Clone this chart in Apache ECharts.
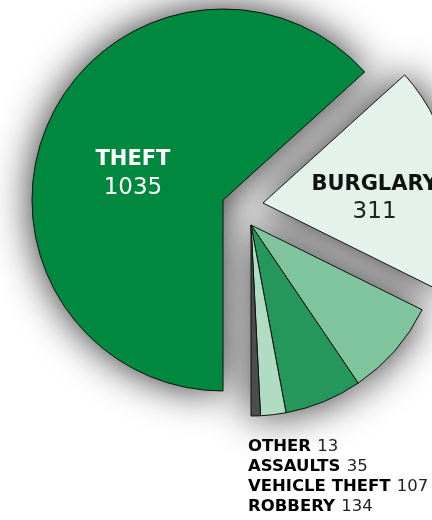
<!DOCTYPE html>
<html>
<head>
<meta charset="utf-8">
<script src="https://cdn.jsdelivr.net/npm/echarts@6/dist/echarts.min.js"></script>
<style>
  html, body { margin: 0; padding: 0; background: #fff; }
  #chart { width: 432px; height: 520px; }
</style>
</head>
<body>
<div id="chart"></div>
<script>
// slices in clockwise order starting at 6 o'clock
var categories = ['THEFT', 'BURGLARY', 'ROBBERY', 'VEHICLE THEFT', 'ASSAULTS', 'OTHER'];
var values = [1035, 311, 134, 107, 35, 13];
// which exploded piece each slice belongs to
var groups = [0, 1, 2, 2, 2, 2];
var colors = ['#00893e', '#e4f2eb', '#80c49e', '#26975a', '#b0dcc3', '#4d4d4d'];
// bottom list, top to bottom
var listOrder = ['OTHER', 'ASSAULTS', 'VEHICLE THEFT', 'ROBBERY'];

var centers = [[223, 200], [263, 203], [251, 225]];
var font = '"DejaVu Sans", sans-serif';

// label tweaks for the two big slices (padding nudges the block off the mid-radius point)
var pieLabel = [
    { nameColor: '#fff', valueColor: '#fff', padding: [28, 0, 0, 0] },
    { nameColor: '#111', valueColor: '#222', padding: [18, 0, 0, 28] }
];

function makeSeries(g, shadow) {
    var data = categories.map(function (name, i) {
        var mine = groups[i] === g;
        var item = { name: name, value: values[i] };
        if (!mine) {
            item.itemStyle = { color: 'rgba(0,0,0,0)', borderWidth: 0, shadowBlur: 0, shadowColor: 'rgba(0,0,0,0)' };
            item.label = { show: false };
        } else {
            item.itemStyle = { color: colors[i] };
            item.label = { show: !shadow && g < 2 };
        }
        return item;
    });
    var lab = pieLabel[g] || pieLabel[1];
    return {
        type: 'pie',
        z: shadow ? 1 : 2,
        silent: true,
        animation: false,
        center: centers[g],
        radius: 191,
        startAngle: 270,
        clockwise: true,
        avoidLabelOverlap: false,
        itemStyle: shadow ? {
            borderWidth: 0,
            shadowBlur: 40,
            shadowOffsetX: 0,
            shadowOffsetY: 0,
            shadowColor: 'rgba(0,0,0,0.85)'
        } : {
            borderColor: '#111',
            borderWidth: 1
        },
        label: {
            position: 'inside',
            fontFamily: font,
            padding: lab.padding,
            formatter: function (p) {
                return '{n|' + p.name + '}\n{v|' + p.value + '}';
            },
            rich: {
                n: { fontSize: 21, fontWeight: 'bold', color: lab.nameColor, fontFamily: font, lineHeight: 28 },
                v: { fontSize: 23, fontWeight: 'normal', color: lab.valueColor, fontFamily: font, lineHeight: 28 }
            }
        },
        labelLine: { show: false },
        emphasis: { disabled: true },
        data: data
    };
}

var series = [];
[0, 1, 2].forEach(function (g) { series.push(makeSeries(g, true)); });
[0, 1, 2].forEach(function (g) { series.push(makeSeries(g, false)); });

var listText = listOrder.map(function (name) {
    return '{b|' + name + '} {n|' + values[categories.indexOf(name)] + '}';
}).join('\n');

var option = {
    backgroundColor: '#fff',
    title: {
        text: listText,
        left: 248,
        top: 437,
        padding: 0,
        textStyle: {
            fontFamily: font,
            rich: {
                b: { fontSize: 16.5, fontWeight: 'bold', color: '#000', fontFamily: font, lineHeight: 20 },
                n: { fontSize: 16.5, fontWeight: 'normal', color: '#222', fontFamily: font, lineHeight: 20 }
            }
        }
    },
    series: series
};

var myChart = echarts.init(document.getElementById('chart'));
myChart.setOption(option);
</script>
</body>
</html>
